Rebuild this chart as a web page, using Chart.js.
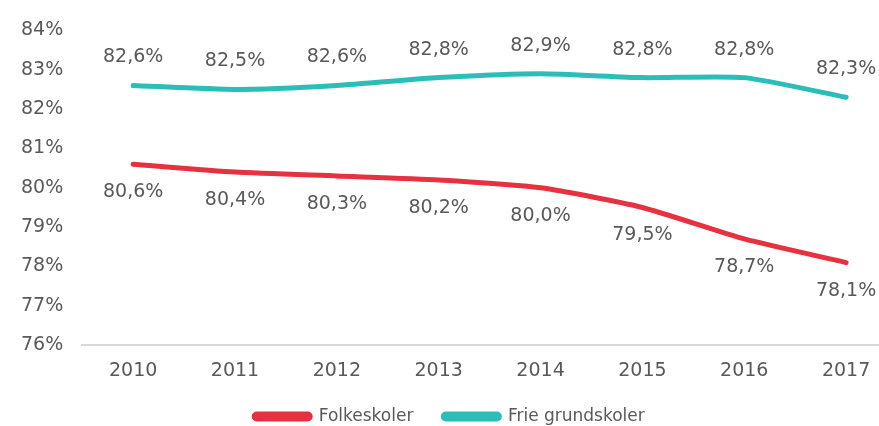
<!DOCTYPE html>
<html>
<head>
<meta charset="utf-8">
<script src="https://cdn.jsdelivr.net/npm/chart.js@4"></script>
<style>
  html, body { margin: 0; padding: 0; background: #fff; overflow: hidden; }
  #wrap { width: 897px; height: 426px; }
</style>
</head>
<body>
<div id="wrap"><canvas id="chart" width="897" height="426"></canvas></div>
<script>
'use strict';

const years       = ['2010', '2011', '2012', '2013', '2014', '2015', '2016', '2017'];
const folkeskoler = [80.6, 80.4, 80.3, 80.2, 80.0, 79.5, 78.7, 78.1];
const frieSkoler  = [82.6, 82.5, 82.6, 82.8, 82.9, 82.8, 82.8, 82.3];

const RED   = '#E63240';
const TEAL  = '#2BBDB8';
const TEXT  = '#595959';
const FONT  = 'Verdana, "DejaVu Sans", sans-serif';

const fmtPct = v => v.toFixed(1).replace('.', ',') + '%';

// ── Value labels (above for teal, below for red) ──────────────────────────────

const valueLabels = {
  id: 'valueLabels',
  afterInit(chart) {
    // keep wide gaps between legend items but a short legend box
    const legend = chart.legend;
    const fit = legend.fit;
    legend.fit = function () { fit.call(this); this.height = 48; };
  },
  afterDatasetsDraw(chart) {
    const ctx = chart.ctx;
    ctx.save();
    ctx.font = '19px ' + FONT;
    ctx.fillStyle = TEXT;
    ctx.textAlign = 'center';
    ctx.textBaseline = 'middle';
    chart.data.datasets.forEach((ds, i) => {
      const meta = chart.getDatasetMeta(i);
      const dy = ds.labelPos === 'above' ? -28 : 28;
      meta.data.forEach((pt, j) => {
        ctx.fillText(fmtPct(ds.data[j]), pt.x, pt.y + dy);
      });
    });
    ctx.restore();
  },
};

new Chart(document.getElementById('chart'), {
  type: 'line',
  data: {
    labels: years,
    datasets: [
      {
        label: 'Folkeskoler',
        data: folkeskoler,
        borderColor: RED,
        backgroundColor: RED,
        borderWidth: 5,
        pointRadius: 0,
        tension: 0.2,
        borderCapStyle: 'round',
        labelPos: 'below',
      },
      {
        label: 'Frie grundskoler',
        data: frieSkoler,
        borderColor: TEAL,
        backgroundColor: TEAL,
        borderWidth: 5,
        pointRadius: 0,
        tension: 0.2,
        borderCapStyle: 'round',
        labelPos: 'above',
      },
    ],
  },
  options: {
    responsive: false,
    animation: false,
    layout: { padding: { top: 10, left: 2, right: 0, bottom: 0 } },
    plugins: {
      legend: {
        position: 'bottom',
        labels: {
          color: TEXT,
          font: { family: FONT, size: 17 },
          boxWidth: 56,
          boxHeight: 5,
          useBorderRadius: true,
          borderRadius: 2.5,
          padding: 30,
        },
      },
      tooltip: { enabled: false },
    },
    scales: {
      x: {
        offset: true,
        grid: { display: false, drawTicks: false },
        border: { color: '#D9D9D9', width: 2 },
        ticks: { color: TEXT, font: { family: FONT, size: 19 }, padding: 14 },
        afterFit: s => { s.height -= 18; },
      },
      y: {
        min: 76,
        max: 84,
        grid: { display: false, drawTicks: false },
        border: { display: false },
        ticks: {
          stepSize: 1,
          color: TEXT,
          font: { family: FONT, size: 19 },
          padding: 19,
          callback: v => v + '%',
        },
      },
    },
  },
  plugins: [valueLabels],
});
</script>
</body>
</html>
